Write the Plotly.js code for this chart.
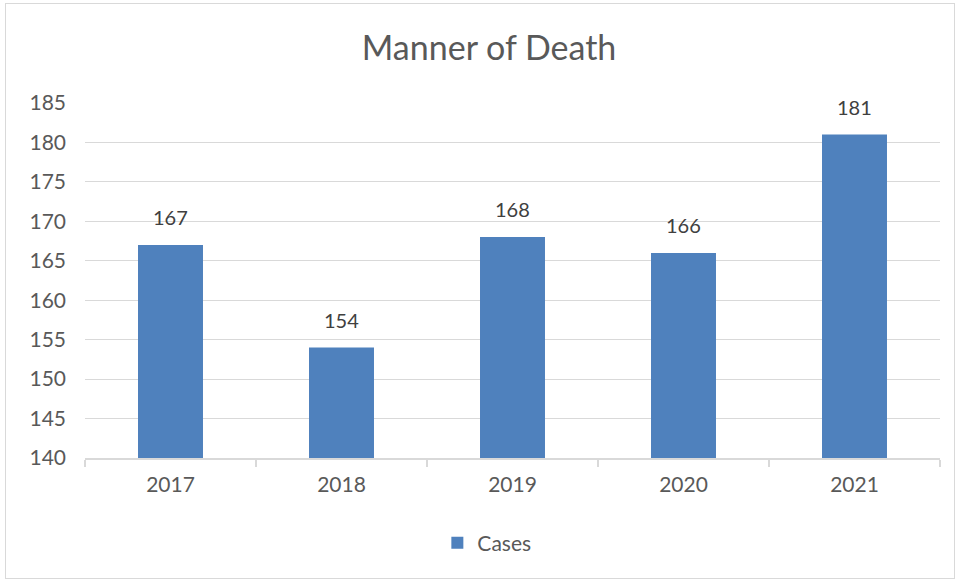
<!DOCTYPE html>
<html>
<head>
<meta charset="utf-8">
<script src="https://cdn.plot.ly/plotly-3.0.1.min.js"></script>
<style>
html,body{margin:0;padding:0;background:#fff;}
#wrap{position:relative;width:959px;height:580px;}
#chart{width:959px;height:580px;}
#frame{position:absolute;left:5px;top:3px;width:948px;height:574px;border:1px solid #d9d9d9;pointer-events:none;}
</style>
</head>
<body>
<div id="wrap"><div id="chart"></div><div id="frame"></div></div>
<script>
const years = ['2017', '2018', '2019', '2020', '2021'];
const cases = [167, 154, 168, 166, 181];
const seriesName = 'Cases';
const yTicks = [140, 145, 150, 155, 160, 165, 170, 175, 180, 185];

const font = 'Lato, "Open Sans", sans-serif';
const trace = {
  type: 'bar',
  x: years,
  y: cases,
  name: seriesName,
  marker: {color: '#4F81BD'},
  width: 0.38,
  cliponaxis: false,
  showlegend: true
};
const annotations = years.map((yr, i) => ({
  x: i, y: cases[i], xref: 'x', yref: 'y',
  text: String(cases[i]), showarrow: false,
  yanchor: 'bottom', yshift: 14,
  font: {family: font, size: 20, color: '#404040'}
}));
const layout = {
  width: 959, height: 580,
  margin: {l: 85, r: 19, t: 103, b: 122},
  paper_bgcolor: '#fff', plot_bgcolor: '#fff',
  font: {family: font, color: '#595959'},
  title: {text: 'Manner of Death', font: {family: font, size: 34, color: '#595959'}, x: 0.51, xanchor: 'center', y: 0.917, yanchor: 'middle'},
  xaxis: {
    type: 'category',
    categoryarray: years,
    range: [-0.5, years.length - 0.5],
    tickson: 'boundaries',
    ticks: 'outside', ticklen: 7, tickcolor: '#d9d9d9', tickwidth: 2,
    showline: true, linecolor: '#d9d9d9', linewidth: 2,
    showgrid: false,
    tickfont: {family: font, size: 21, color: '#595959'},
    ticklabelstandoff: 7
  },
  yaxis: {
    range: [140, 185],
    tickvals: yTicks,
    showgrid: true, gridcolor: '#d9d9d9', gridwidth: 1,
    zeroline: false, showline: false,
    tickfont: {family: font, size: 21, color: '#595959'},
    ticklabelstandoff: 18
  },
  annotations: annotations,
  showlegend: true,
  legend: {orientation: 'h', x: 0.47, xanchor: 'center', y: -0.24, yanchor: 'middle',
           font: {family: font, size: 21, color: '#595959'}},
  bargap: 0.62
};
Plotly.newPlot('chart', [trace], layout, {displayModeBar: false, staticPlot: true});
</script>
</body>
</html>
